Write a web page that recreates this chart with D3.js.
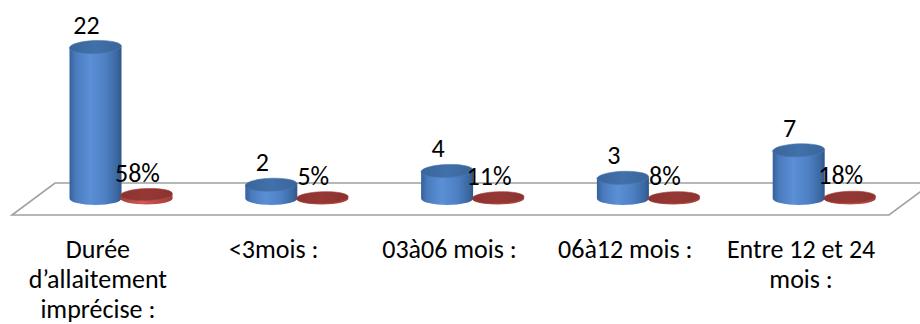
<!DOCTYPE html>
<html>
<head>
<meta charset="utf-8">
<script src="https://cdn.jsdelivr.net/npm/d3@7"></script>
<style>
  html, body { margin: 0; padding: 0; background: #fff; }
  svg { display: block; }
  text { font-family: Carlito, Calibri, Lato, "Open Sans", sans-serif; fill: #000; }
</style>
</head>
<body>
<svg id="chart" width="920" height="324"></svg>
<script>
// Breastfeeding duration: counts and shares per category
const categories = [
  "Durée d’allaitement imprécise :",
  "<3mois :",
  "03à06 mois :",
  "06à12 mois :",
  "Entre 12 et 24 mois :"
];
const counts = [22, 2, 4, 3, 7];
const shares = [0.58, 0.05, 0.11, 0.08, 0.18];
const seriesNames = ["Effectif", "Pourcentage"];

const svg = d3.select("#chart");
const defs = svg.append("defs");
const FS = 26;

// Floor of the 3D plot (parallelogram)
const floor = { backY: 183, frontY: 215, frontLeft: 12, backLeft: 55, frontRight: 889, backRight: 932 };

const x = d3.scaleBand().domain(categories).range([10, 889]);
const xs = d3.scaleBand().domain(seriesNames).range([60, 162]);
const y = d3.scaleLinear().domain([0, 22]).range([198.5, 47]);

const rx = xs.bandwidth() / 2 + 0.5;
const ryBlue = 6.5, ryRed = 6;

// Gradients for the cylinders
function hGrad(id, stops) {
  const g = defs.append("linearGradient").attr("id", id)
    .attr("x1", "0%").attr("x2", "100%").attr("y1", "0%").attr("y2", "0%");
  stops.forEach(([o, c]) => g.append("stop").attr("offset", o).attr("stop-color", c));
}
hGrad("blueBody", [["0%", "#35619b"], ["12%", "#4a7bbd"], ["40%", "#5b8fd6"], ["70%", "#4d7fc2"], ["92%", "#3a679f"], ["100%", "#2e5688"]]);
hGrad("blueTop", [["0%", "#3a659c"], ["50%", "#4270a9"], ["100%", "#3a659c"]]);
hGrad("redBody", [["0%", "#a23f3c"], ["40%", "#d25a56"], ["100%", "#a03c39"]]);
hGrad("redTop", [["0%", "#8a3330"], ["50%", "#953835"], ["100%", "#8a3330"]]);

svg.append("path")
  .attr("d", `M${floor.backLeft},${floor.backY} L${floor.backRight},${floor.backY} L${floor.frontRight},${floor.frontY} L${floor.frontLeft},${floor.frontY} Z`)
  .attr("fill", "#fff")
  .attr("stroke", "#a0a0a0")
  .attr("stroke-width", 1.6);

function cylinder(g, cx, v, ry, bodyFill, topFill, edge) {
  const base = y(0), top = Math.min(y(v), base - 0.8);
  g.append("path")
    .attr("d", `M${cx - rx},${top} L${cx - rx},${base} A${rx},${ry} 0 0 0 ${cx + rx},${base} L${cx + rx},${top} Z`)
    .attr("fill", bodyFill);
  g.append("ellipse")
    .attr("cx", cx).attr("cy", top).attr("rx", rx).attr("ry", ry)
    .attr("fill", topFill)
    .attr("stroke", edge).attr("stroke-width", 0.6)
    .attr("transform", `rotate(-2 ${cx} ${top})`);
  return top;
}

const fmtCount = d3.format("d");
const fmtShare = d3.format(".0%");

const groups = svg.append("g").selectAll("g")
  .data(categories)
  .join("g");

groups.each(function (c, i) {
  const g = d3.select(this);
  const cxB = x(c) + xs(seriesNames[0]) + xs.bandwidth() / 2;
  const cxR = x(c) + xs(seriesNames[1]) + xs.bandwidth() / 2;
  const topB = cylinder(g, cxB, counts[i], ryBlue, "url(#blueBody)", "url(#blueTop)", "#4a78b4");
  const topR = cylinder(g, cxR, shares[i], ryRed, "url(#redBody)", "url(#redTop)", "#a8413e");
  g.append("text")
    .attr("x", cxB - 9).attr("y", topB - ryBlue - 7)
    .attr("text-anchor", "middle").attr("font-size", FS)
    .text(fmtCount(counts[i]));
  g.append("text")
    .attr("x", cxR - 9).attr("y", topR - ryRed - 7)
    .attr("text-anchor", "middle").attr("font-size", FS)
    .text(fmtShare(shares[i]));
});

// Category labels along the front edge, wrapped to the band width
const labels = svg.append("g").selectAll("text")
  .data(categories)
  .join("text")
  .attr("text-anchor", "middle")
  .attr("font-size", FS)
  .attr("x", d => x(d) + x.bandwidth() / 2)
  .attr("y", 258);

labels.each(function (d) {
  const t = d3.select(this);
  const words = d.split(" ");
  const maxW = 170;
  let line = [];
  let tspan = t.append("tspan").attr("x", t.attr("x")).attr("dy", 0);
  words.forEach(w => {
    line.push(w);
    tspan.text(line.join(" "));
    if (tspan.node().getComputedTextLength() > maxW && line.length > 1) {
      line.pop();
      tspan.text(line.join(" "));
      line = [w];
      tspan = t.append("tspan").attr("x", t.attr("x")).attr("dy", 30).text(w);
    }
  });
});
</script>
</body>
</html>
